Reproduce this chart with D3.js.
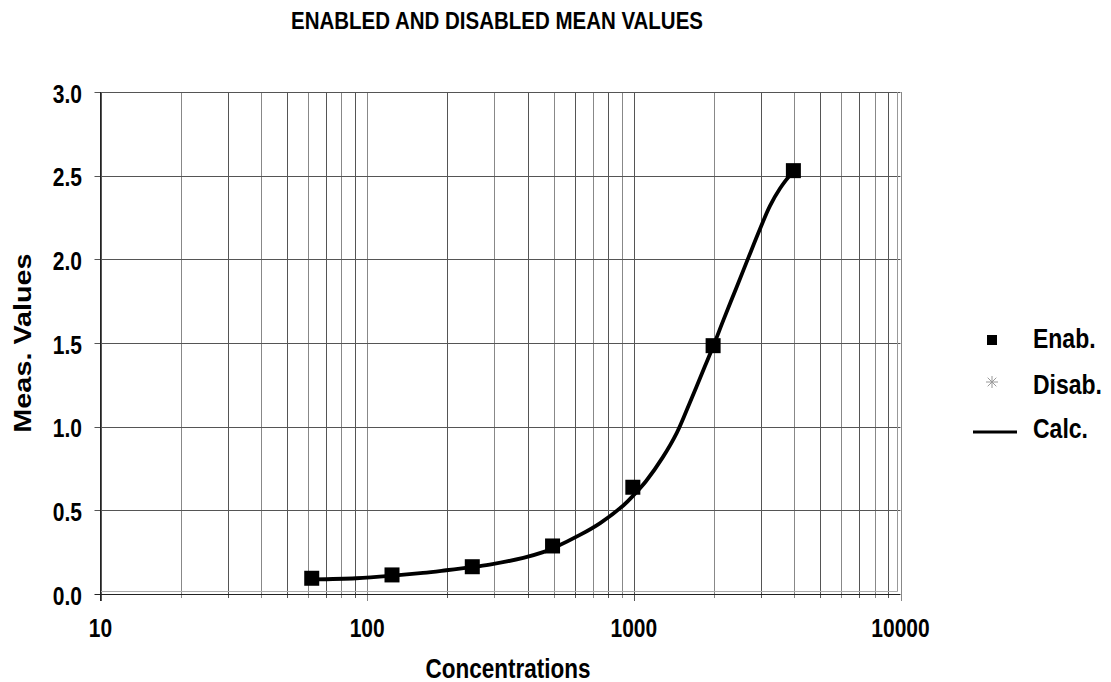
<!DOCTYPE html>
<html>
<head>
<meta charset="utf-8">
<script src="https://cdn.jsdelivr.net/npm/d3@7"></script>
<style>
  html, body { margin: 0; padding: 0; background: #fff; }
  text { font-family: "Liberation Sans", Arial, sans-serif; font-weight: bold; fill: #000; }
</style>
</head>
<body>
<svg id="chart" width="1111" height="682"></svg>
<script>
// ---- data ----
const enabConc = [62.5, 125, 250, 500, 1000, 2000, 4000];
const enabValues = [0.094, 0.114, 0.163, 0.287, 0.638, 1.484, 2.53];
const disabConc = [];
const disabValues = [];
const calcConc = [62.5, 91, 122, 162, 198, 242, 288, 385, 457, 500, 628, 748, 913, 1000, 1114, 1285, 1449, 1620, 1849, 2000, 2165, 2431, 2680, 2972, 3240, 3532, 3848, 4000];
const calcValues = [0.087, 0.094, 0.108, 0.126, 0.142, 0.159, 0.176, 0.216, 0.250, 0.275, 0.353, 0.424, 0.529, 0.592, 0.677, 0.818, 0.963, 1.142, 1.362, 1.494, 1.635, 1.835, 2.004, 2.181, 2.319, 2.423, 2.501, 2.525];
const xTickLabels = [10, 100, 1000, 10000];
const yTickValues = [0, 0.5, 1.0, 1.5, 2.0, 2.5, 3.0];
const legendLabels = ["Enab.", "Disab.", "Calc."];
const titleText = "ENABLED AND DISABLED MEAN VALUES";
const xTitle = "Concentrations";
const yTitle = "Meas. Values";

// ---- layout ----
const svg = d3.select("#chart");
const x = d3.scaleLog().domain([10, 10000]).range([100.5, 900.5]);
const y = d3.scaleLinear().domain([0, 3]).range([594, 92]);
const pLeft = 100.5, pRight = 900.5, pTop = 92, pBottom = 594;
const VS = 1.2; // vertical stretch of lettering

function addText(g, tx, ty, str, size, anchor) {
  return g.append("text")
    .attr("transform", `translate(${tx},${ty}) scale(1,${VS})`)
    .attr("text-anchor", anchor || "start")
    .attr("font-size", size)
    .text(str);
}

// gridlines vertical
const gridX = x.ticks();
svg.append("g").selectAll("line").data(gridX).join("line")
  .attr("x1", d => Math.round(x(d)) + 0.5).attr("x2", d => Math.round(x(d)) + 0.5)
  .attr("y1", pTop).attr("y2", d => xTickLabels.includes(d) ? pBottom + 7 : pBottom + 4)
  .attr("stroke", (d, i) => i % 2 ? "#888" : "#555").attr("stroke-width", 1);

// gridlines horizontal
svg.append("g").selectAll("line").data(yTickValues).join("line")
  .attr("x1", pLeft - 6).attr("x2", pRight)
  .attr("y1", d => Math.round(y(d)) + 0.5).attr("y2", d => Math.round(y(d)) + 0.5)
  .attr("stroke", d => d === 0 ? "#222" : "#555").attr("stroke-width", 1);

// inner plot frame (light)
svg.append("line").attr("x1", pLeft).attr("x2", 897.5).attr("y1", 591.5).attr("y2", 591.5)
  .attr("stroke", "#aaa");
svg.append("line").attr("x1", 897.5).attr("x2", 897.5).attr("y1", pTop).attr("y2", 591.5)
  .attr("stroke", "#999");
// left axis line
svg.append("line").attr("x1", pLeft).attr("x2", pLeft).attr("y1", pTop).attr("y2", pBottom + 7)
  .attr("stroke", "#222");

// y tick labels
const gy = svg.append("g");
yTickValues.forEach(v => addText(gy, 82, y(v) + 10.5, d3.format(".1f")(v), 21, "end"));

// x tick labels
const gx = svg.append("g");
xTickLabels.forEach(v => addText(gx, x(v), 637, String(v), 21, "middle"));

// titles
addText(svg, 497, 29, titleText, 20.5, "middle");
addText(svg, 508, 678, xTitle, 22.5, "middle");
svg.append("text").attr("transform", `translate(31,343) rotate(-90) scale(${VS},1)`)
  .attr("text-anchor", "middle").attr("font-size", 24).text(yTitle);

// calc curve
const calcData = calcConc.map((c, i) => [c, calcValues[i]]);
const line = d3.line().x(d => x(d[0])).y(d => y(d[1])).curve(d3.curveCatmullRom.alpha(0.5));
svg.append("path").datum(calcData).attr("d", line)
  .attr("fill", "none").attr("stroke", "#000").attr("stroke-width", 3.8)
  .attr("stroke-linejoin", "round").attr("stroke-linecap", "round");

// enab markers
const ms = 15;
svg.append("g").selectAll("rect").data(enabConc.map((c, i) => [c, enabValues[i]])).join("rect")
  .attr("x", d => x(d[0]) - ms / 2 - 1).attr("y", d => y(d[1]) - ms / 2)
  .attr("width", ms).attr("height", ms).attr("fill", "#000");

// disab markers (none in data)
const star = d3.symbol().type(d3.symbolAsterisk).size(90);
svg.append("g").selectAll("path").data(disabConc.map((c, i) => [c, disabValues[i]])).join("path")
  .attr("transform", d => `translate(${x(d[0])},${y(d[1])})`).attr("d", star)
  .attr("stroke", "#888").attr("fill", "none");

// legend
const lg = svg.append("g");
lg.append("rect").attr("x", 987).attr("y", 335).attr("width", 10).attr("height", 10).attr("fill", "#000");
const ax = 992, ay = 382, r = 6;
[[0, 1], [1, 0], [0.72, 0.72], [0.72, -0.72]].forEach(([dx, dy]) => {
  lg.append("line").attr("x1", ax - dx * r).attr("x2", ax + dx * r)
    .attr("y1", ay - dy * r).attr("y2", ay + dy * r)
    .attr("stroke", "#999").attr("stroke-width", 1);
});
lg.append("line").attr("x1", 973).attr("x2", 1017).attr("y1", 432).attr("y2", 432)
  .attr("stroke", "#000").attr("stroke-width", 3);
const legendY = [348, 394, 438];
legendLabels.forEach((t, i) => addText(lg, 1033, legendY[i], t, 23, "start"));
</script>
</body>
</html>
